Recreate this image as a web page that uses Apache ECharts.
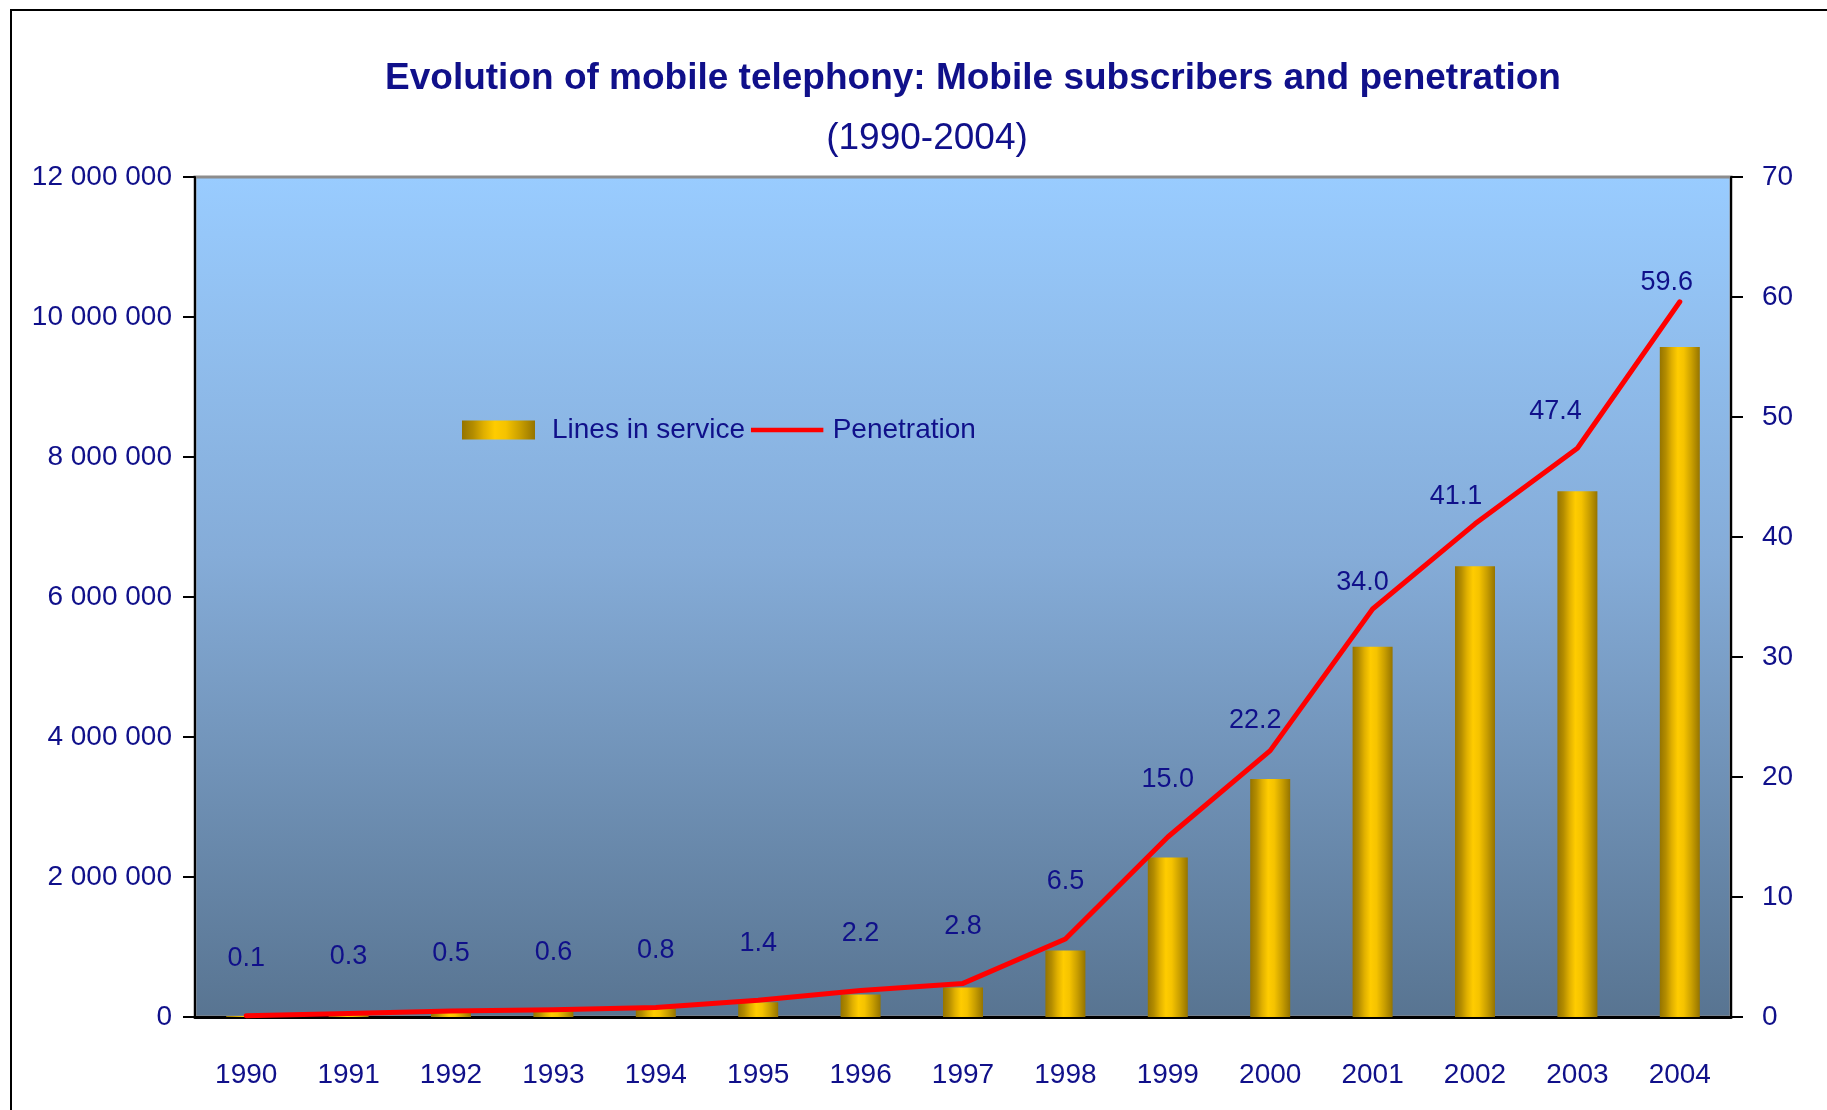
<!DOCTYPE html>
<html>
<head>
<meta charset="utf-8">
<title>Mobile subscribers and penetration</title>
<script src="https://cdn.jsdelivr.net/npm/echarts@6/dist/echarts.min.js"></script>
<style>
    html, body { margin: 0; padding: 0; background: #fff; }
    #chart { width: 1827px; height: 1110px; }
</style>
</head>
<body>
<div id="chart"></div>
<script>
    // data
    var years = ['1990', '1991', '1992', '1993', '1994', '1995', '1996', '1997',
        '1998', '1999', '2000', '2001', '2002', '2003', '2004'];
    var linesInService = [15000, 45000, 75000, 90000, 120000, 210000, 320000, 420000,
        950000, 2280000, 3400000, 5290000, 6440000, 7510000, 9570000];
    var penetration = [0.1, 0.3, 0.5, 0.6, 0.8, 1.4, 2.2, 2.8, 6.5, 15.0, 22.2, 34.0, 41.1, 47.4, 59.6];
    var leftTicks = [0, 12000000, 2000000];   // min, max, interval
    var rightTicks = [0, 70, 10];

    // label nudges (px) – the last few labels sit closer to the line
    var labelShift = [[0, -57], [0, -57], [0, -57], [0, -57], [0, -57], [0, -57], [0, -57], [0, -57],
        [0, -57], [0, -57], [-15, -30], [-10, -26], [-19, -27], [-22, -37], [-13, -19]];

    var FONT = "'Liberation Sans', Arial, sans-serif";
    var NAVY = '#10108a';

    function spaced(v) {
        return String(v).replace(/\B(?=(\d{3})+(?!\d))/g, ' ');
    }

    var penData = [];
    for (var i = 0; i < penetration.length; i++) {
        penData.push({
            value: penetration[i],
            label: { offset: labelShift[i] }
        });
    }

    var gold = new echarts.graphic.LinearGradient(0, 0, 1, 0, [
        { offset: 0, color: '#957400' },
        { offset: 0.15, color: '#b38c00' },
        { offset: 0.3, color: '#e0b000' },
        { offset: 0.45, color: '#ffcc00' },
        { offset: 0.6, color: '#f5c300' },
        { offset: 0.8, color: '#c89e00' },
        { offset: 1, color: '#957400' }
    ]);

    // thin horizontal bar for the line's legend key (tiny corner dots fix its box)
    var lineKey = 'path://M0,0h0.1v0.1h-0.1z M0,8h80v5h-80z M79.9,20.9h0.1v0.1h-0.1z';

    var chart = echarts.init(document.getElementById('chart'));
    var option = {
        backgroundColor: '#ffffff',
        animation: false,
        title: [{
            text: 'Evolution of mobile telephony: Mobile subscribers and penetration',
            left: 968, top: 55, textAlign: 'center',
            textStyle: { fontFamily: FONT, fontSize: 37, fontWeight: 'bold', color: NAVY }
        }, {
            text: '(1990-2004)',
            left: 922, top: 115, textAlign: 'center',
            textStyle: { fontFamily: FONT, fontSize: 37, fontWeight: 'normal', color: NAVY }
        }],
        legend: {
            left: 462, top: 416, padding: 0,
            itemWidth: 73, itemHeight: 19, itemGap: 6,
            textStyle: { fontFamily: FONT, fontSize: 28, color: NAVY },
            data: [
                { name: 'Lines in service', icon: 'rect', textStyle: { padding: [0, 0, 0, 12] } },
                { name: 'Penetration', icon: lineKey, itemStyle: { color: '#ff0000' },
                    textStyle: { padding: [0, 0, 0, 4] } }
            ]
        },
        grid: {
            left: 195, right: 96, top: 177, bottom: 93,
            show: true,
            borderColor: '#8c8c8c', borderWidth: 3,
            backgroundColor: new echarts.graphic.LinearGradient(0, 0, 0, 1, [
                { offset: 0, color: '#99ccff' },
                { offset: 0.45, color: '#85acd8' },
                { offset: 1, color: '#587491' }
            ])
        },
        xAxis: {
            type: 'category',
            data: years,
            axisLine: { lineStyle: { color: '#000', width: 3 } },
            axisTick: { show: false },
            axisLabel: { fontFamily: FONT, fontSize: 28, color: NAVY, margin: 44 }
        },
        yAxis: [{
            type: 'value',
            min: leftTicks[0], max: leftTicks[1], interval: leftTicks[2],
            axisLine: { show: true, lineStyle: { color: '#000', width: 2 } },
            axisTick: { show: true, length: 12, lineStyle: { color: '#000', width: 2 } },
            splitLine: { show: false },
            axisLabel: {
                fontFamily: FONT, fontSize: 28, color: NAVY, margin: 23,
                formatter: spaced
            }
        }, {
            type: 'value',
            min: rightTicks[0], max: rightTicks[1], interval: rightTicks[2],
            axisLine: { show: true, lineStyle: { color: '#000', width: 2 } },
            axisTick: { show: true, length: 12, lineStyle: { color: '#000', width: 2 } },
            splitLine: { show: false },
            axisLabel: { fontFamily: FONT, fontSize: 28, color: NAVY, margin: 31 }
        }],
        series: [{
            name: 'Lines in service',
            type: 'bar',
            yAxisIndex: 0,
            barWidth: 40,
            itemStyle: { color: gold },
            data: linesInService
        }, {
            name: 'Penetration',
            type: 'line',
            yAxisIndex: 1,
            symbol: 'circle',
            symbolSize: 1,
            lineStyle: { color: '#ff0000', width: 5, cap: 'round', join: 'round' },
            itemStyle: { color: '#ff0000' },
            label: {
                show: true,
                position: 'inside',
                fontFamily: FONT, fontSize: 27, color: NAVY,
                formatter: function (p) { return p.value.toFixed(1); }
            },
            data: penData
        }],
        graphic: [{
            type: 'rect',
            silent: true,
            shape: { x: 11, y: 10, width: 1900, height: 1200 },
            style: { fill: null, stroke: '#000', lineWidth: 2 }
        }]
    };
    chart.setOption(option);
</script>
</body>
</html>
